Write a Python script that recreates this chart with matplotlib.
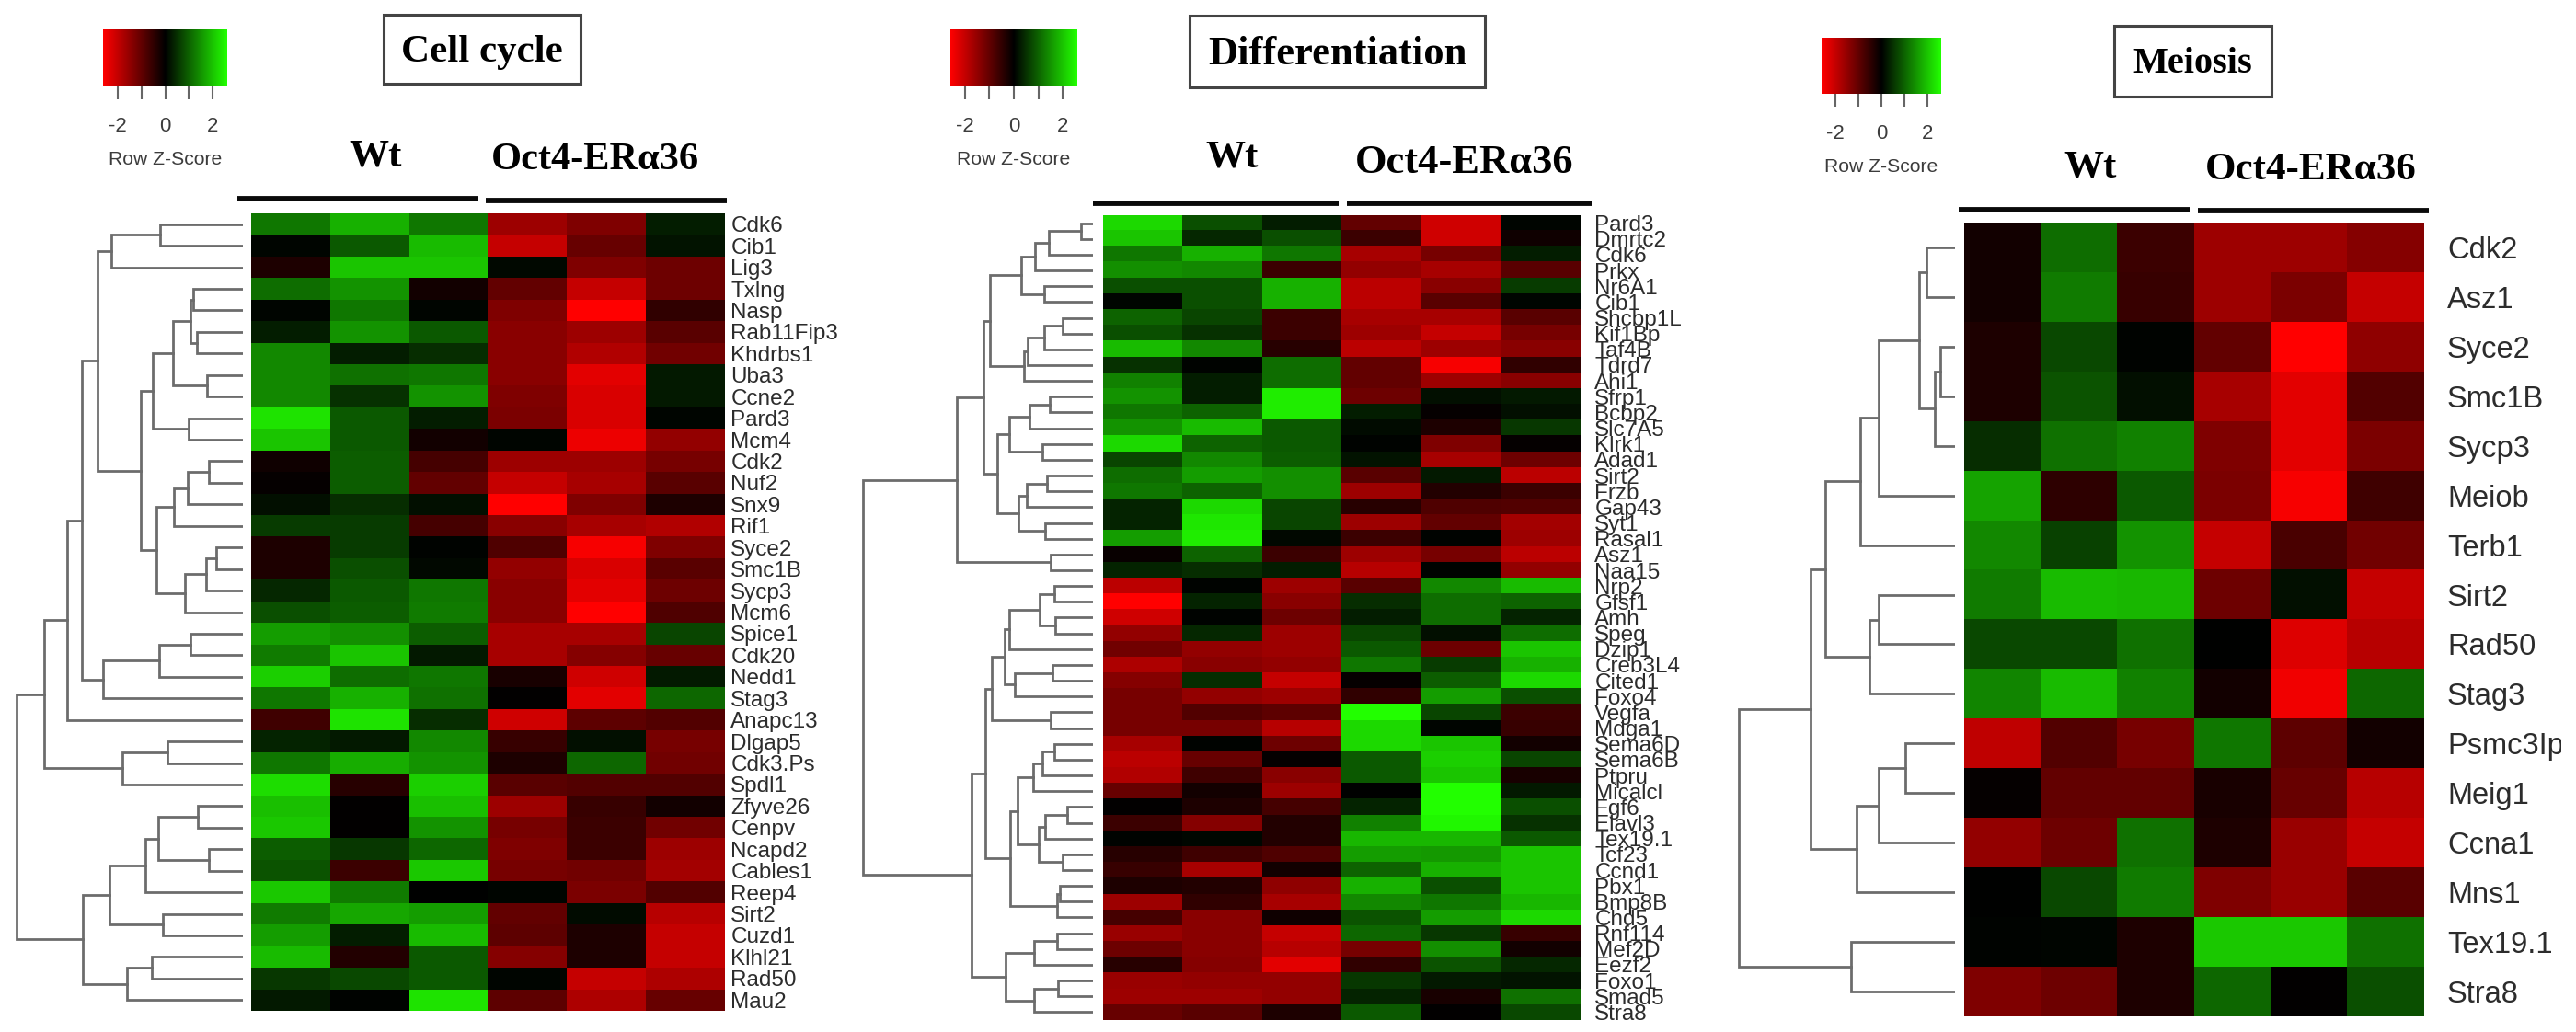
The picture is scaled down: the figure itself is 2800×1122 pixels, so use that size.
import matplotlib
matplotlib.use('Agg')
import matplotlib.pyplot as plt
from matplotlib.colors import LinearSegmentedColormap
from matplotlib.patches import Rectangle
import numpy as np

W, H = 2800, 1122

# Row Z-scores, columns are Wt x3 then Oct4-ERa36 x3
cell_genes = ['Cdk6', 'Cib1', 'Lig3', 'Txlng', 'Nasp', 'Rab11Fip3', 'Khdrbs1', 'Uba3', 'Ccne2', 'Pard3',
              'Mcm4', 'Cdk2', 'Nuf2', 'Snx9', 'Rif1', 'Syce2', 'Smc1B', 'Sycp3', 'Mcm6', 'Spice1',
              'Cdk20', 'Nedd1', 'Stag3', 'Anapc13', 'Dlgap5', 'Cdk3.Ps', 'Spdl1', 'Zfyve26', 'Cenpv',
              'Ncapd2', 'Cables1', 'Reep4', 'Sirt2', 'Cuzd1', 'Klhl21', 'Rad50', 'Mau2']
cell_values = [
    [1.2, 1.8, 1.2, -1.6, -1.3, 0.3],
    [0.05, 0.9, 1.9, -2.0, -1.05, 0.2],
    [-0.3, 2.0, 2.0, 0.1, -1.3, -1.1],
    [1.1, 1.5, -0.2, -1.0, -2.0, -1.1],
    [0.05, 1.2, 0.05, -1.3, -2.6, -0.5],
    [0.3, 1.5, 0.9, -1.4, -1.6, -0.9],
    [1.4, 0.3, 0.45, -1.4, -1.8, -1.15],
    [1.4, 1.15, 1.2, -1.4, -2.3, 0.25],
    [1.4, 0.5, 1.5, -1.3, -2.2, 0.25],
    [2.3, 0.9, 0.3, -1.25, -2.2, 0.05],
    [2.0, 0.9, -0.2, 0.05, -2.4, -1.5],
    [-0.15, 0.95, -0.7, -1.6, -1.6, -1.2],
    [-0.05, 0.95, -1.0, -2.0, -1.7, -0.9],
    [0.15, 0.45, 0.15, -2.6, -1.3, -0.3],
    [0.6, 0.6, -0.7, -1.4, -1.7, -1.8],
    [-0.3, 0.6, 0.03, -0.8, -2.5, -1.3],
    [-0.3, 0.8, 0.1, -1.5, -2.2, -0.9],
    [0.4, 0.9, 1.2, -1.4, -2.3, -1.1],
    [0.8, 0.95, 1.25, -1.4, -2.6, -0.8],
    [1.6, 1.45, 0.95, -1.7, -1.7, 0.7],
    [1.25, 2.0, 0.25, -1.7, -1.35, -1.05],
    [2.1, 1.1, 1.2, -0.25, -2.1, 0.25],
    [1.2, 1.8, 1.15, -0.03, -2.3, 1.05],
    [-0.65, 2.3, 0.45, -2.1, -0.95, -0.85],
    [0.35, 0.25, 1.4, -0.55, 0.15, -1.2],
    [1.2, 1.75, 1.5, -0.3, 1.05, -1.15],
    [2.25, -0.4, 2.1, -0.9, -0.85, -0.85],
    [1.95, -0.03, 1.95, -1.6, -0.55, -0.2],
    [2.05, -0.03, 1.5, -1.2, -0.6, -1.15],
    [0.95, 0.55, 1.05, -1.3, -0.6, -1.6],
    [0.85, -0.6, 2.05, -1.2, -1.15, -1.65],
    [2.05, 1.25, 0.02, 0.05, -1.25, -0.85],
    [1.25, 1.7, 1.6, -1.0, 0.12, -1.85],
    [1.6, 0.3, 1.9, -0.95, -0.3, -2.0],
    [1.9, -0.35, 0.9, -1.35, -0.3, -2.0],
    [0.55, 0.75, 0.9, 0.05, -2.0, -1.75],
    [0.25, 0.03, 2.3, -0.95, -1.75, -1.05],
]
# dendrograms are nested (child, child, height), a plain int is a row index
c_a = ((0, 1, 90), 2, 143)
c_b = (((3, 4, 54), (5, 6, 50), 57), (7, 8, 39), 76)
c_c = (c_b, (9, 10, 59), 98)
c_d = (((11, 12, 37), 13, 60), 14, 75)
c_e = (((15, 16, 29), 17, 40), 18, 63)
c_g = (c_c, (c_d, c_e, 94), 111)
c_i = (((19, 20, 57), 21, 91), 22, 152)
c_j = (((c_a, c_g, 158), c_i, 175), 23, 191)
c_k = ((24, 25, 82), 26, 131)
c_l = (((27, 28, 49), (29, 30, 37), 92), 31, 106)
c_m = (c_l, (32, 33, 87), 145)
c_n = ((34, 35, 99), 36, 126)
cell_tree = ((c_j, c_k, 216), (c_m, c_n, 174), 246)

diff_genes = ['Pard3', 'Dmrtc2', 'Cdk6', 'Prkx', 'Nr6A1', 'Cib1', 'Shcbp1L', 'Kif1Bp', 'Taf4B', 'Tdrd7',
              'Ahi1', 'Sfrp1', 'Bcbp2', 'Slc7A5', 'Klrk1', 'Adad1', 'Sirt2', 'Frzb', 'Gap43', 'Syt1',
              'Rasal1', 'Asz1', 'Naa15', 'Nrp2', 'Gfsf1', 'Amh', 'Speg', 'Dzip1', 'Creb3L4', 'Cited1',
              'Foxo4', 'Vegfa', 'Mdga1', 'Sema6D', 'Sema6B', 'Ptpru', 'Micalcl', 'Fgf6', 'Elavl3',
              'Tex19.1', 'Tcf23', 'Ccnd1', 'Pbx1', 'Bmp8B', 'Chd5', 'Rnf114', 'Mef2D', 'Eezf2', 'Foxo1',
              'Smad5', 'Stra8']
diff_values = [
    [2.2, 0.8, 0.3, -1.0, -2.1, 0.05],
    [2.0, 0.4, 0.8, -0.6, -2.1, -0.15],
    [1.2, 1.8, 1.2, -1.7, -1.2, 0.3],
    [1.45, 1.4, -0.6, -1.5, -1.7, -0.9],
    [0.8, 0.8, 1.8, -1.9, -1.4, 0.6],
    [0.05, 0.8, 1.8, -1.9, -0.9, 0.05],
    [1.0, 0.7, -0.6, -1.7, -1.7, -0.9],
    [0.8, 0.5, -0.6, -1.6, -2.0, -1.2],
    [1.9, 1.4, -0.4, -1.9, -1.6, -1.4],
    [0.5, 0.03, 1.1, -1.0, -2.5, -0.5],
    [1.3, 0.3, 1.1, -1.0, -1.6, -1.4],
    [1.5, 0.3, 2.4, -1.1, 0.15, 0.25],
    [1.2, 1.0, 2.4, 0.3, -0.05, 0.15],
    [1.5, 1.9, 0.9, 0.12, -0.3, 0.55],
    [2.2, 1.0, 0.9, 0.03, -1.3, -0.05],
    [0.7, 1.4, 0.95, 0.2, -1.7, -1.1],
    [1.1, 1.6, 1.45, -0.9, 0.25, -1.9],
    [1.2, 1.0, 1.45, -1.6, -0.35, -0.6],
    [0.35, 2.2, 0.7, -0.4, -0.8, -0.85],
    [0.35, 2.35, 0.7, -1.6, -1.0, -1.65],
    [1.6, 2.4, 0.1, -0.6, 0.03, -1.6],
    [-0.1, 1.0, -0.6, -1.6, -1.2, -1.9],
    [0.35, 0.45, 0.3, -1.85, 0.03, -1.5],
    [-1.9, 0.03, -1.6, -0.9, 1.4, 1.9],
    [-2.6, 0.35, -1.4, 0.45, 1.1, 1.0],
    [-2.1, 0.03, -1.1, 0.3, 1.1, 0.35],
    [-1.5, 0.4, -1.6, 0.7, 0.15, 1.1],
    [-1.15, -1.5, -1.6, 0.9, -1.1, 2.0],
    [-1.75, -1.4, -1.5, 1.2, 0.6, 1.8],
    [-1.35, 0.45, -2.0, -0.05, 0.95, 2.2],
    [-1.2, -1.5, -1.6, -0.5, 1.6, 0.8],
    [-1.2, -0.85, -0.95, 2.6, 0.7, -0.6],
    [-1.2, -1.2, -1.85, 2.2, 0.05, -0.55],
    [-1.7, 0.03, -1.1, 2.2, 2.0, -0.2],
    [-1.9, -1.05, -0.05, 0.9, 2.1, 0.7],
    [-1.8, -0.65, -1.4, 0.9, 2.0, -0.25],
    [-1.05, -0.2, -1.6, 0.02, 2.6, 0.25],
    [-0.03, -0.3, -0.7, 0.35, 2.65, 0.8],
    [-0.6, -1.35, -0.35, 1.3, 2.5, 0.5],
    [0.03, 0.08, -0.35, 1.85, 1.85, 0.9],
    [-0.4, -0.65, -0.8, 1.6, 1.55, 2.0],
    [-0.55, -1.7, -0.2, 1.0, 1.8, 2.0],
    [-0.3, -0.35, -1.45, 1.8, 0.8, 2.0],
    [-1.6, -0.5, -1.7, 1.4, 1.2, 1.85],
    [-0.7, -1.4, -0.15, 0.85, 1.6, 2.2],
    [-1.55, -1.4, -2.0, 1.05, 0.55, -0.55],
    [-1.1, -1.4, -1.85, -1.2, 1.45, -0.2],
    [-0.4, -1.35, -2.3, -0.5, 0.85, 0.4],
    [-1.55, -1.5, -1.5, 0.55, 0.25, 0.2],
    [-1.6, -1.6, -1.5, 0.35, -0.25, 1.15],
    [-1.05, -0.9, -0.3, 0.9, -0.03, 0.75],
]
d_a = ((((0, 1, 13), 2, 48), 3, 63), (4, 5, 53), 78)
d_b = ((((6, 7, 33), 8, 53), 9, 71), 10, 75)
d_d = (((11, 12, 47), 13, 69), (14, 15, 55), 91)
d_f = (((16, 17, 50), 18, 72), (19, 20, 52), 81)
d_top = (((d_a, d_b, 112), (d_d, d_f, 104), 119), (21, 22, 46), 148)
d_u = ((((23, 24, 42), (25, 26, 41), 58), 27, 91), ((28, 29, 44), 30, 85), 96)
d_v = (d_u, (31, 32, 46), 110)
d_s = (((33, 34, 42), 35, 55), 36, 65)
d_t = (((37, 38, 28), 39, 52), (40, 41, 33), 59)
d_p = ((42, 43, 36), 44, 39)
d_w = ((d_s, d_t, 82), d_p, 90)
d_x = (((45, 46, 39), 47, 64), ((48, 49, 38), 50, 64), 95)
diff_tree = (d_top, ((d_v, d_w, 117), d_x, 132), 250)

meio_genes = ['Cdk2', 'Asz1', 'Syce2', 'Smc1B', 'Sycp3', 'Meiob', 'Terb1', 'Sirt2', 'Rad50', 'Stag3',
              'Psmc3Ip', 'Meig1', 'Ccna1', 'Mns1', 'Tex19.1', 'Stra8']
meio_values = [
    [-0.2, 1.1, -0.6, -1.6, -1.6, -1.35],
    [-0.2, 1.25, -0.55, -1.6, -1.25, -2.0],
    [-0.3, 0.75, 0.03, -1.0, -2.6, -1.45],
    [-0.3, 0.85, 0.15, -1.7, -2.3, -0.85],
    [0.45, 1.15, 1.3, -1.3, -2.3, -1.25],
    [1.65, -0.45, 0.9, -1.25, -2.5, -0.65],
    [1.4, 0.65, 1.5, -2.0, -0.75, -1.15],
    [1.25, 1.9, 1.85, -1.1, 0.15, -2.0],
    [0.75, 0.75, 1.15, 0.02, -2.25, -1.85],
    [1.35, 1.9, 1.3, -0.2, -2.45, 1.05],
    [-1.95, -0.85, -1.2, 1.2, -0.95, -0.2],
    [-0.05, -1.0, -1.0, -0.25, -1.05, -1.85],
    [-1.5, -1.1, 1.15, -0.3, -1.55, -2.0],
    [0.02, 0.75, 1.25, -1.3, -1.55, -0.9],
    [0.03, 0.05, -0.3, 2.05, 2.05, 1.15],
    [-1.3, -1.1, -0.3, 1.05, -0.03, 0.8],
]
m_a = (((0, 1, 31), ((2, 3, 16), 4, 22), 39), 5, 83)
m_b = (m_a, 6, 103)
m_c = ((7, 8, 83), 9, 93)
m_d = (((10, 11, 54), 12, 83), 13, 107)
meio_tree = (((m_b, m_c, 141), m_d, 157), (14, 15, 113), 235)

key_range = 2.6
key_ticks = [-2, -1, 0, 1, 2]
key_labels = ['-2', '', '0', '', '2']

red_black_green = LinearSegmentedColormap.from_list('rbg', ['#ff0000', '#000000', '#22ff00'])

fig = plt.figure(figsize=(W / 100, H / 100), dpi=100)


def px_axes(x0, y0, x1, y1):
    # axes from reference pixels, origin top left
    return fig.add_axes([x0 / W, 1 - y1 / H, (x1 - x0) / W, (y1 - y0) / H])


def draw_tree(ax, node):
    if isinstance(node, int):
        return node, 0
    y1, h1 = draw_tree(ax, node[0])
    y2, h2 = draw_tree(ax, node[1])
    h = node[2]
    ax.plot([h1, h, h, h2], [y1, y1, y2, y2], color='#6c6c6c', lw=2.0, solid_joinstyle='miter')
    return (y1 + y2) / 2, h


def draw_panel(genes, values, tree, title, p):
    values = np.array(values)
    n = len(genes)

    # heatmap
    ax = px_axes(p['heat'][0], p['heat'][1], p['heat'][2], p['heat'][3])
    ax.imshow(values, cmap=red_black_green, vmin=-key_range, vmax=key_range, aspect='auto',
              interpolation='nearest')
    ax.set_xticks([])
    ax.yaxis.tick_right()
    ax.set_yticks(range(n))
    ax.set_yticklabels(genes, fontsize=p['fs'], color='#2c2c2c', family='Liberation Sans')
    ax.tick_params(axis='y', length=0, pad=p['pad'])
    for s in ax.spines.values():
        s.set_visible(False)

    # dendrogram, one unit of height is one reference pixel
    dx = px_axes(p['leaf'] - 265, p['heat'][1], p['leaf'], p['heat'][3])
    draw_tree(dx, tree)
    dx.set_xlim(265, 0)
    dx.set_ylim(n - 0.5, -0.5)
    dx.axis('off')

    # colour key
    kx0, ky0, kx1, ky1 = p['key']
    kx = px_axes(kx0, ky0, kx1, ky1)
    kx.imshow(np.linspace(-key_range, key_range, 256)[None, :], cmap=red_black_green,
              vmin=-key_range, vmax=key_range, aspect='auto',
              extent=[-key_range, key_range, 0, 1])
    kx.set_yticks([])
    kx.set_xticks(key_ticks)
    kx.set_xticklabels(key_labels, fontsize=16, color='#3c3c3c', family='Liberation Sans')
    kx.tick_params(axis='x', length=10, width=1.5, color='#666666', pad=14)
    for s in kx.spines.values():
        s.set_visible(False)
    kx.set_xlabel('Row Z-Score', fontsize=15.2, color='#3c3c3c', family='Liberation Sans', labelpad=11)

    # title box, group names and bars live on the overlay
    bx0, by0, bx1, by1 = p['box']
    over.add_patch(Rectangle((bx0, by0), bx1 - bx0, by1 - by0, fill=False, edgecolor='#444444', lw=2.2))
    over.text((bx0 + bx1) / 2, p['title_y'], title, ha='center', va='center', fontsize=p['title_fs'],
              family='Liberation Serif', fontweight='bold', color='black')
    over.text(p['wt'][0], p['wt'][1], 'Wt', ha='center', va='center', fontsize=31,
              family='Liberation Serif', fontweight='bold', color='black')
    over.text(p['oct'][0], p['oct'][1], 'Oct4-ER\u03b136', ha='center', va='center', fontsize=p['oct_fs'],
              family='Liberation Serif', fontweight='bold', color='black')
    for x0, x1, y in p['bars']:
        over.plot([x0, x1], [y, y], color='#0a0a0a', lw=4.2, solid_capstyle='butt')


over = fig.add_axes([0, 0, 1, 1], zorder=5)
over.set_xlim(0, W)
over.set_ylim(H, 0)
over.axis('off')

draw_panel(cell_genes, cell_values, cell_tree, 'Cell cycle',
           dict(heat=(273, 232, 788, 1099), leaf=264, fs=17.5, pad=4.5, key=(112, 31, 247, 94),
                box=(417, 16, 631, 91), title_y=57, title_fs=31, wt=(408, 170), oct=(647, 174), oct_fs=30.5,
                bars=[(258, 520, 216), (528, 790, 218)]))
draw_panel(diff_genes, diff_values, diff_tree, 'Differentiation',
           dict(heat=(1199, 234, 1718, 1109), leaf=1188, fs=17.5, pad=11, key=(1033, 31, 1171, 94),
                box=(1293, 17, 1614, 95), title_y=59, title_fs=32, wt=(1339, 171), oct=(1592, 177), oct_fs=32,
                bars=[(1188, 1455, 221), (1464, 1730, 221)]))
draw_panel(meio_genes, meio_values, meio_tree, 'Meiosis',
           dict(heat=(2135, 242, 2635, 1105), leaf=2125, fs=23.5, pad=18, key=(1980, 41, 2110, 102),
                box=(2298, 28, 2469, 105), title_y=69, title_fs=29, wt=(2272, 182), oct=(2512, 185), oct_fs=31,
                bars=[(2129, 2380, 228), (2389, 2640, 229)]))

# the reference crops the last label just short of the right edge
over.add_patch(Rectangle((2784, 0), W - 2784, H, facecolor='white', edgecolor='none'))

fig.savefig('out.png', dpi=100)
